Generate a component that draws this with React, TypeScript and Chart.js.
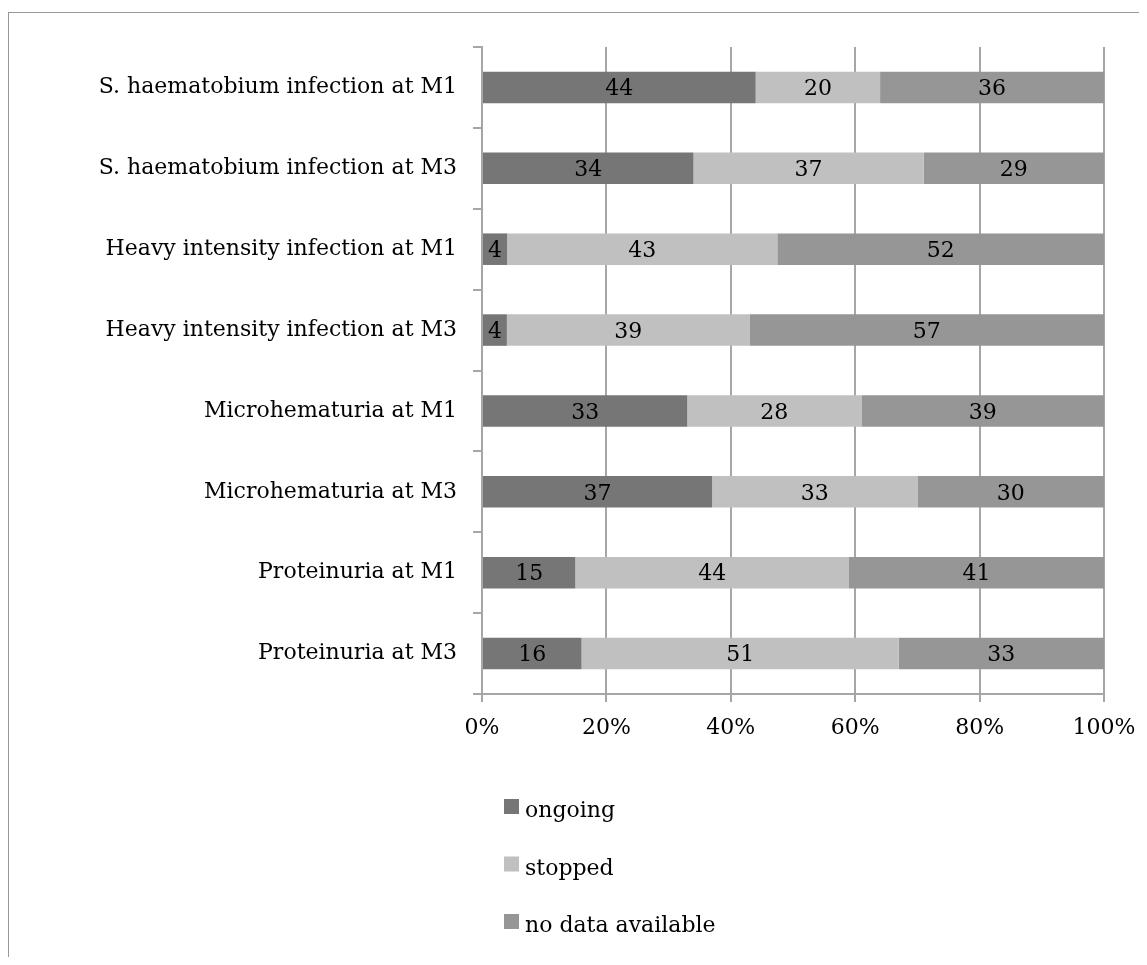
import React, { useEffect, useRef } from 'react';
import { Chart, registerables } from 'chart.js';

Chart.register(...registerables);

const categories = [
  'S. haematobium infection at M1',
  'S. haematobium infection at M3',
  'Heavy intensity infection at M1',
  'Heavy intensity infection at M3',
  'Microhematuria at M1',
  'Microhematuria at M3',
  'Proteinuria at M1',
  'Proteinuria at M3',
];

const ongoing = [44, 34, 4, 4, 33, 37, 15, 16];
const stopped = [20, 37, 43, 39, 28, 33, 44, 51];
const noData = [36, 29, 52, 57, 39, 30, 41, 33];

const seriesNames = ['ongoing', 'stopped', 'no data available'];
const seriesColors = ['#767676', '#c0c0c0', '#969696'];
const xTickValues = [0, 20, 40, 60, 80, 100];

const FONT = "'DejaVu Serif', serif";
const FONT_SIZE = 22;
const LINE = '#a6a6a6';

const rawSeries = [ongoing, stopped, noData];
const rowTotals = categories.map((_, i) => rawSeries.reduce((s, arr) => s + arr[i], 0));
// 100% stacked: each row is shown as shares of its total
const shareSeries = rawSeries.map((arr) => arr.map((v, i) => (v / rowTotals[i]) * 100));

// Writes each segment's count in the middle of its bar segment
const barValueLabels = {
  id: 'barValueLabels',
  afterDatasetsDraw(chart: any) {
    const ctx = chart.ctx;
    ctx.save();
    ctx.font = `${FONT_SIZE}px ${FONT}`;
    ctx.fillStyle = '#000';
    ctx.textAlign = 'center';
    ctx.textBaseline = 'middle';
    chart.data.datasets.forEach((_: any, di: number) => {
      const meta = chart.getDatasetMeta(di);
      meta.data.forEach((el: any, i: number) => {
        const p = el.getCenterPoint();
        ctx.fillText(String(rawSeries[di][i]), p.x, p.y + 2);
      });
    });
    ctx.restore();
  },
};

// One legend entry per line, stacked below the x axis
const stackedLegend = {
  id: 'stackedLegend',
  afterDraw(chart: any) {
    const ctx = chart.ctx;
    const area = chart.chartArea;
    ctx.save();
    ctx.font = `${FONT_SIZE}px ${FONT}`;
    ctx.textAlign = 'left';
    ctx.textBaseline = 'alphabetic';
    chart.data.datasets.forEach((ds: any, i: number) => {
      const boxX = area.left + 22;
      const boxY = area.bottom + 105 + i * 57.5;
      ctx.fillStyle = ds.backgroundColor;
      ctx.fillRect(boxX, boxY, 15, 15);
      ctx.fillStyle = '#000';
      ctx.fillText(ds.label, boxX + 21, boxY + 18);
    });
    ctx.restore();
  },
};

export default function App() {
  const canvasRef = useRef<HTMLCanvasElement | null>(null);

  useEffect(() => {
    if (!canvasRef.current) return;
    const chart = new Chart(canvasRef.current, {
      type: 'bar',
      data: {
        labels: categories,
        datasets: shareSeries.map((data, i) => ({
          label: seriesNames[i],
          data,
          backgroundColor: seriesColors[i],
          borderWidth: 0,
          categoryPercentage: 1,
          barPercentage: 0.39,
        })),
      },
      options: {
        indexAxis: 'y',
        animation: false,
        responsive: true,
        maintainAspectRatio: false,
        layout: { padding: { top: 39, left: 0, right: 35, bottom: 213 } },
        font: { family: FONT, size: FONT_SIZE },
        plugins: {
          legend: { display: false },
          tooltip: { enabled: false },
        },
        scales: {
          x: {
            stacked: true,
            min: 0,
            max: 100,
            afterBuildTicks: (scale: any) => {
              scale.ticks = xTickValues.map((v) => ({ value: v }));
            },
            afterFit: (scale: any) => {
              scale.height = 50;
              scale.paddingLeft = 0;
              scale.paddingRight = 0;
            },
            ticks: {
              color: '#000',
              font: { family: FONT, size: FONT_SIZE },
              padding: 13,
              maxRotation: 0,
              callback: (v: any) => `${v}%`,
            },
            grid: { color: LINE, lineWidth: 2, tickLength: 8, drawTicks: true },
            border: { color: LINE, width: 2 },
          },
          y: {
            stacked: true,
            afterFit: (scale: any) => {
              scale.width = 474;
              scale.paddingTop = 0;
              scale.paddingBottom = 0;
            },
            ticks: {
              color: '#000',
              font: { family: FONT, size: FONT_SIZE },
              padding: 16,
              autoSkip: false,
            },
            grid: {
              color: LINE,
              lineWidth: 2,
              tickLength: 9,
              drawOnChartArea: false,
              offset: true,
            },
            border: { color: LINE, width: 2 },
          },
        },
      },
      plugins: [barValueLabels, stackedLegend],
    } as any);
    return () => chart.destroy();
  }, []);

  return (
    <div style={{ position: 'relative', width: 1131, height: 949, overflow: 'hidden' }}>
      <div
        style={{
          position: 'absolute',
          left: 0,
          top: 4,
          width: 1200,
          height: 1000,
          borderTop: '1px solid #999',
          borderLeft: '1px solid #999',
        }}
      />
      <div style={{ position: 'absolute', left: 0, top: 0, width: 1131, height: 949 }}>
        <canvas ref={canvasRef} />
      </div>
    </div>
  );
}
